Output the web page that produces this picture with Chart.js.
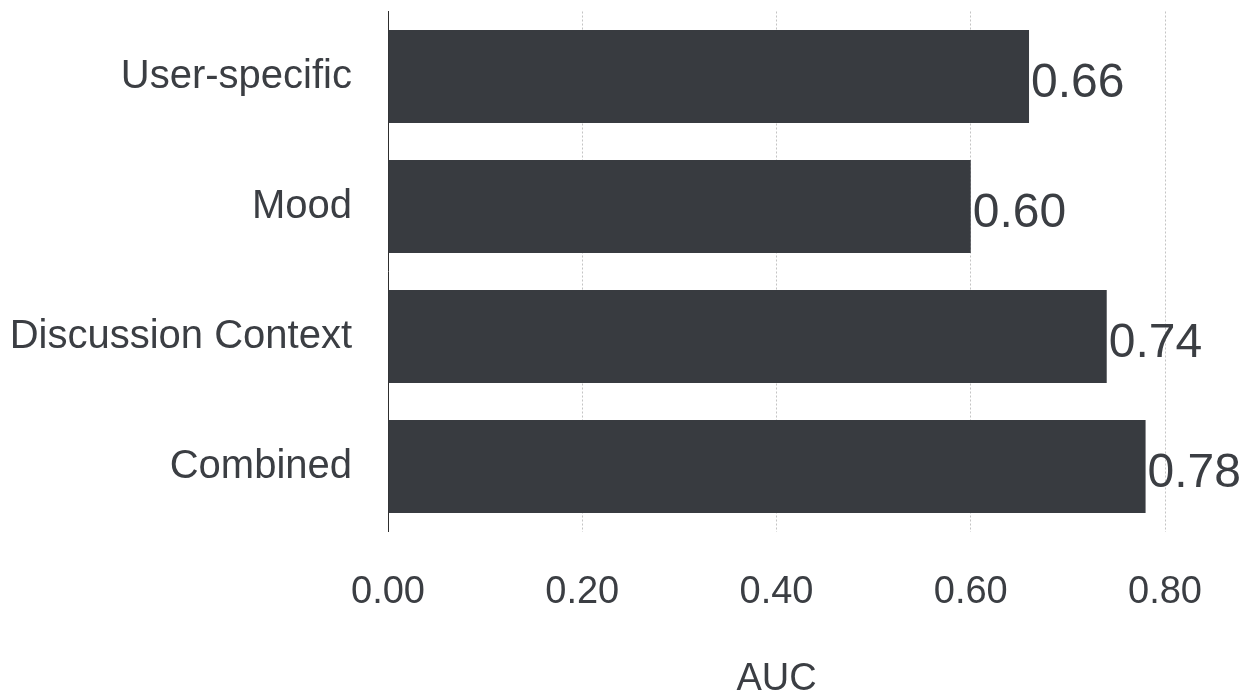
<!DOCTYPE html>
<html>
<head>
<meta charset="utf-8">
<title>AUC by feature set</title>
<script src="https://cdn.jsdelivr.net/npm/chart.js@4/dist/chart.umd.min.js"></script>
<style>
  html, body { margin: 0; padding: 0; background: #ffffff; }
  #wrap { width: 1245px; height: 697px; position: relative; }
</style>
</head>
<body>
<div id="wrap"><canvas id="chart"></canvas></div>
<script>
// Feature sets and their AUC scores
const categories = ['User-specific', 'Mood', 'Discussion Context', 'Combined'];
const aucValues = [0.66, 0.60, 0.74, 0.78];
const xTickValues = [0.00, 0.20, 0.40, 0.60, 0.80];
const axisTitle = 'AUC';

const FONT = "'Liberation Sans', Arial, Helvetica, sans-serif";
const TEXT = '#3b3e43';
const BAR = '#383b40';

// Writes each bar's value just past its end
const valueLabels = {
  id: 'valueLabels',
  afterDatasetsDraw(chart) {
    const ctx = chart.ctx;
    const meta = chart.getDatasetMeta(0);
    ctx.save();
    ctx.font = '48px ' + FONT;
    ctx.fillStyle = TEXT;
    ctx.textAlign = 'left';
    ctx.textBaseline = 'alphabetic';
    meta.data.forEach((bar, i) => {
      const v = chart.data.datasets[0].data[i];
      ctx.fillText(v.toFixed(2), bar.x + 2, bar.y + 20.5);
    });
    ctx.restore();
  }
};

new Chart(document.getElementById('chart'), {
  type: 'bar',
  data: {
    labels: categories,
    datasets: [{
      data: aucValues,
      backgroundColor: BAR,
      borderWidth: 0,
      categoryPercentage: 1.0,
      barPercentage: 0.715
    }]
  },
  options: {
    indexAxis: 'y',
    responsive: true,
    maintainAspectRatio: false,
    animation: false,
    layout: { padding: { top: 11.5, right: 80, bottom: 0, left: 0 } },
    plugins: {
      legend: { display: false },
      tooltip: { enabled: false }
    },
    scales: {
      x: {
        min: xTickValues[0],
        max: xTickValues[xTickValues.length - 1],
        afterBuildTicks(scale) {
          scale.ticks = xTickValues.map(v => ({ value: v }));
        },
        afterFit(scale) {
          scale.height = 165.5;
          scale.paddingLeft = 0;
          scale.paddingRight = 0;
        },
        grid: {
          drawTicks: false,
          lineWidth: 1,
          color: ctx => (ctx.tick && ctx.tick.value === 0) ? 'rgba(0,0,0,0)' : '#c4c4c4'
        },
        border: { display: false, dash: [2, 2] },
        ticks: {
          padding: 38,
          color: TEXT,
          font: { family: FONT, size: 38 },
          callback: v => Number(v).toFixed(2)
        },
        title: {
          display: true,
          text: axisTitle,
          color: TEXT,
          font: { family: FONT, size: 38, lineHeight: 0.9 },
          padding: 0
        }
      },
      y: {
        afterFit(scale) {
          scale.width = 388;
          scale.paddingTop = 0;
          scale.paddingBottom = 0;
        },
        grid: { display: false, drawTicks: false },
        border: { display: true, color: '#2e2e2e', width: 1 },
        ticks: {
          padding: 36,
          color: TEXT,
          font: { family: FONT, size: 40 }
        }
      }
    }
  },
  plugins: [valueLabels]
});
</script>
</body>
</html>
